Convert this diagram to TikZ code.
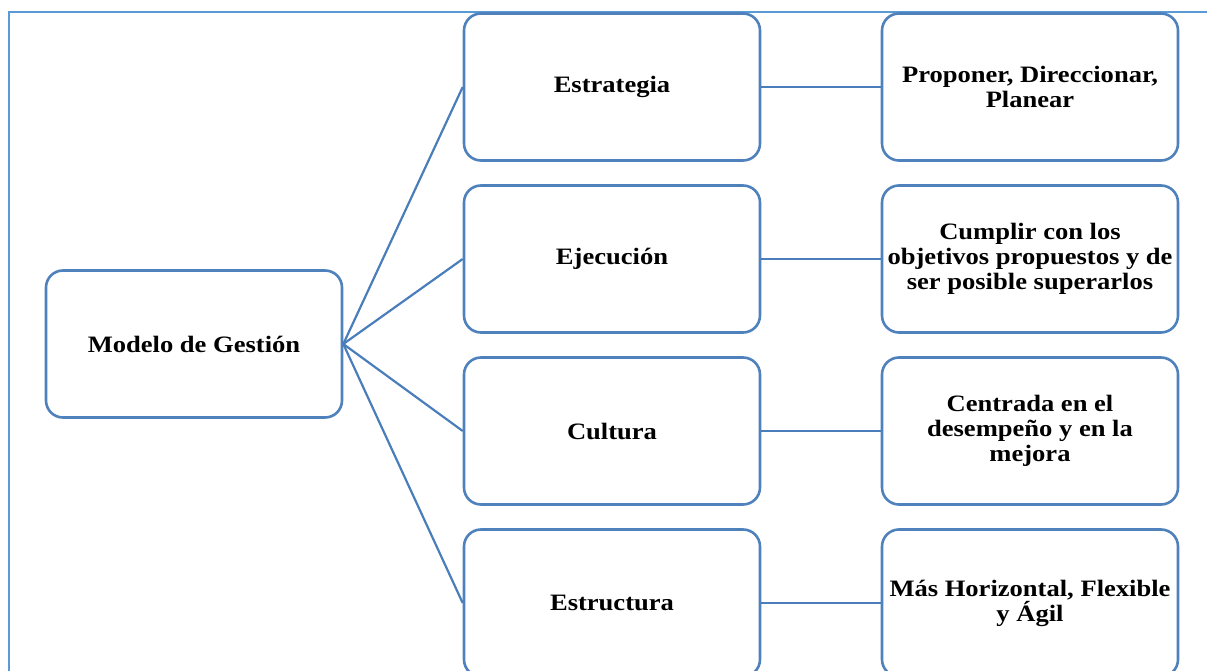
\documentclass[tikz,border=0pt]{standalone}
\usepackage{fontspec}
\setmainfont{Liberation Serif}[FakeStretch=1.13]
\usepackage{xcolor}
\usetikzlibrary{positioning}
\definecolor{boxblue}{RGB}{79,129,189}
\definecolor{lineblue}{RGB}{74,126,187}
\definecolor{frameblue}{RGB}{91,155,213}
\tikzset{
  item/.style={draw=boxblue,line width=2.6pt,rounded corners=17pt,fill=white,
    minimum width=296pt,minimum height=147pt,align=center,
    font=\bfseries\fontsize{23.5}{25}\selectfont},
  link/.style={draw=lineblue,line width=2.2pt}
}

\begin{document}
\begin{tikzpicture}[x=1pt,y=-1pt]
      \useasboundingbox (0,0) rectangle (1207,671);
      \clip (0,0) rectangle (1207,671);
      \draw[frameblue,line width=2pt] (9,12) rectangle (1230,700);
      \node[item] (root) at (194, 344) {Modelo de Gesti\'on};
      \node[item] (m1) at (612, 87) {Estrategia};
      \node[item] (m2) at (612, 259) {Ejecuci\'on};
      \node[item] (m3) at (612, 431) {Cultura};
      \node[item] (m4) at (612, 603) {Estructura};
      \node[item] (r1) at (1030, 87) {Proponer, Direccionar,\\Planear};
      \node[item] (r2) at (1030, 259) {Cumplir con los\\objetivos propuestos y de\\ser posible superarlos};
      \node[item] (r3) at (1030, 431) {Centrada en el\\desempe\~no y en la\\mejora};
      \node[item] (r4) at (1030, 603) {M\'as Horizontal, Flexible\\y \'Agil};
      \path[link] (root.east) -- (m1.west);
      \path[link] (root.east) -- (m2.west);
      \path[link] (root.east) -- (m3.west);
      \path[link] (root.east) -- (m4.west);
      \path[link] (m1) -- (r1);
      \path[link] (m2) -- (r2);
      \path[link] (m3) -- (r3);
      \path[link] (m4) -- (r4);
    \end{tikzpicture}
\end{document}
